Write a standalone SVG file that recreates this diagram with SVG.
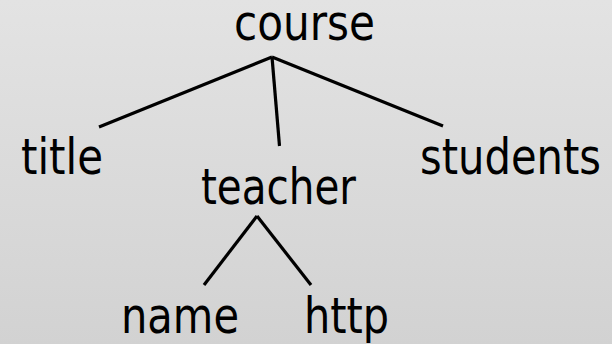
<svg xmlns="http://www.w3.org/2000/svg" width="612" height="344" viewBox="0 0 612 344">
  <defs>
    <linearGradient id="bg" x1="0" y1="0" x2="0" y2="1">
      <stop offset="0" stop-color="#e3e3e3"/>
      <stop offset="1" stop-color="#d2d2d2"/>
    </linearGradient>
  </defs>
  <style>
    .label { font-family: "DejaVu Sans Condensed", "DejaVu Sans", sans-serif; font-size: 49px; fill: #000; }
    .edge { stroke: #000; stroke-width: 3.2; fill: none; stroke-linecap: butt; }
  </style>
  <rect width="612" height="344" fill="url(#bg)"/>

  <g id="connectors">
    <line class="edge" x1="272" y1="57" x2="99" y2="127"/>
    <line class="edge" x1="272" y1="57" x2="279.5" y2="146"/>
    <line class="edge" x1="272" y1="57" x2="443" y2="126"/>
    <line class="edge" x1="257" y1="216" x2="204" y2="285"/>
    <line class="edge" x1="257" y1="216" x2="311" y2="285"/>
  </g>

  <g id="course"><text class="label" x="234" y="40" textLength="141" lengthAdjust="spacingAndGlyphs">course</text></g>
  <g id="title"><text class="label" x="21" y="174" textLength="82" lengthAdjust="spacingAndGlyphs">title</text></g>
  <g id="teacher"><text class="label" x="201" y="204" textLength="155" lengthAdjust="spacingAndGlyphs">teacher</text></g>
  <g id="students"><text class="label" x="420" y="174" textLength="181" lengthAdjust="spacingAndGlyphs">students</text></g>
  <g id="name"><text class="label" x="121" y="333" textLength="118" lengthAdjust="spacingAndGlyphs">name</text></g>
  <g id="http"><text class="label" x="304" y="333" textLength="85" lengthAdjust="spacingAndGlyphs">http</text></g>
</svg>
